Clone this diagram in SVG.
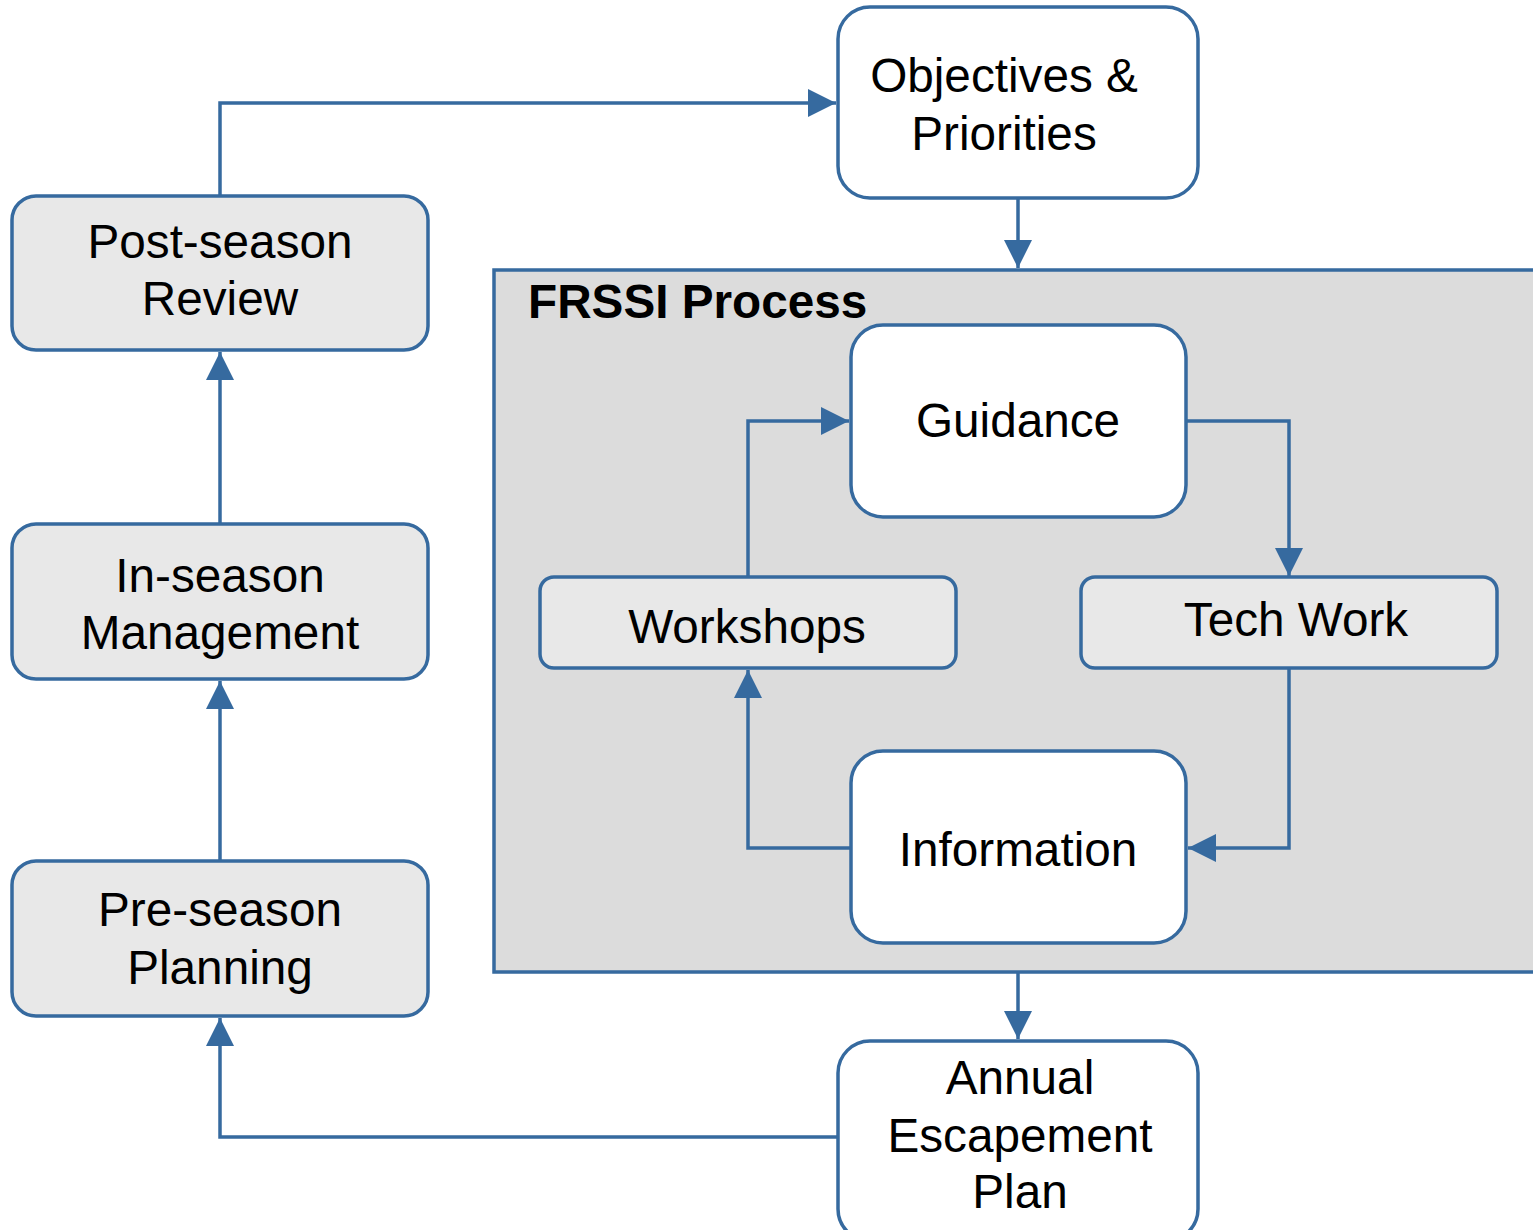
<svg xmlns="http://www.w3.org/2000/svg" width="1533" height="1230" viewBox="0 0 1533 1230">
<style>
.n{stroke:#366a9f;stroke-width:3.5}
.w{fill:#ffffff}
.g{fill:#e8e8e8}
.t{font-family:"Liberation Sans",Arial,sans-serif;font-size:47.7px;fill:#000;text-anchor:middle}
.c{fill:none;stroke:#366a9f;stroke-width:3.5}
</style>
<defs>
<marker id="a" markerUnits="userSpaceOnUse" markerWidth="28" markerHeight="28" refX="26" refY="13" orient="auto" viewBox="0 0 26 26">
<path d="M0,0 L26,13 L0,26 Z" fill="#366a9f"/>
</marker>
</defs>
<rect width="1533" height="1230" fill="#ffffff"/>
<g id="frssi">
<rect x="494" y="270" width="1060" height="702" fill="#dcdcdc" stroke="#366a9f" stroke-width="3.5"/>
<text x="528" y="318" font-family="'Liberation Sans',Arial,sans-serif" font-size="47.7" font-weight="bold">FRSSI Process</text>
</g>
<g id="connectors">
<path class="c" d="M220,196 V103 H836" marker-end="url(#a)"/>
<path class="c" d="M220,524 V352" marker-end="url(#a)"/>
<path class="c" d="M220,861 V681" marker-end="url(#a)"/>
<path class="c" d="M838,1137 H220 V1018" marker-end="url(#a)"/>
<path class="c" d="M1018,198 V268" marker-end="url(#a)"/>
<path class="c" d="M1018,972 V1039" marker-end="url(#a)"/>
<path class="c" d="M1186,421 H1289 V576" marker-end="url(#a)"/>
<path class="c" d="M1289,668 V848 H1188" marker-end="url(#a)"/>
<path class="c" d="M851,848 H748 V670" marker-end="url(#a)"/>
<path class="c" d="M748,577 V421 H849" marker-end="url(#a)"/>
</g>
<g id="objectives">
<rect class="n w" x="838" y="7" width="360" height="191" rx="32"/>
<text class="t" x="1004" y="92">Objectives &amp;</text>
<text class="t" x="1004" y="150">Priorities</text>
</g>
<g id="guidance">
<rect class="n w" x="851" y="325" width="335" height="192" rx="32"/>
<text class="t" x="1018" y="437">Guidance</text>
</g>
<g id="workshops">
<rect class="n g" x="540" y="577" width="416" height="91" rx="14"/>
<text class="t" x="747" y="643">Workshops</text>
</g>
<g id="techwork">
<rect class="n g" x="1081" y="577" width="416" height="91" rx="14"/>
<text class="t" x="1296" y="636">Tech Work</text>
</g>
<g id="information">
<rect class="n w" x="851" y="751" width="335" height="192" rx="32"/>
<text class="t" x="1018" y="866">Information</text>
</g>
<g id="annual">
<rect class="n w" x="838" y="1041" width="360" height="200" rx="32"/>
<text class="t" x="1020" y="1094">Annual</text>
<text class="t" x="1020" y="1152">Escapement</text>
<text class="t" x="1020" y="1208">Plan</text>
</g>
<g id="postseason">
<rect class="n g" x="12" y="196" width="416" height="154" rx="24"/>
<text class="t" x="220" y="258">Post-season</text>
<text class="t" x="220" y="315">Review</text>
</g>
<g id="inseason">
<rect class="n g" x="12" y="524" width="416" height="155" rx="24"/>
<text class="t" x="220" y="592">In-season</text>
<text class="t" x="220" y="649">Management</text>
</g>
<g id="preseason">
<rect class="n g" x="12" y="861" width="416" height="155" rx="24"/>
<text class="t" x="220" y="926">Pre-season</text>
<text class="t" x="220" y="984">Planning</text>
</g>
</svg>
